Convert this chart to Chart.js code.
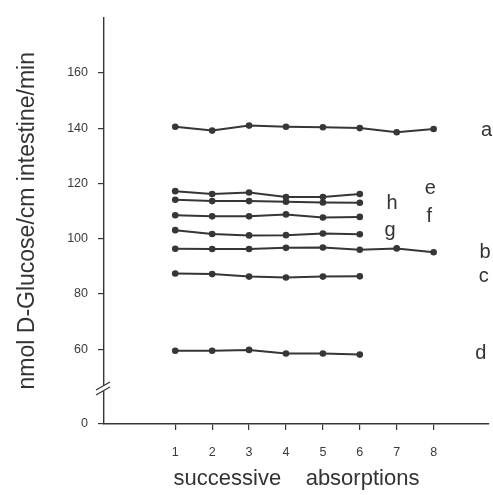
<!DOCTYPE html>
<html>
<head>
<meta charset="utf-8">
<script src="https://cdn.jsdelivr.net/npm/chart.js@4.4.1/dist/chart.umd.min.js"></script>
<style>
  html, body { margin: 0; padding: 0; background: #fff; }
  #wrap { width: 493px; height: 495px; }
</style>
</head>
<body>
<div id="wrap"><canvas id="myChart"></canvas></div>
<script>
// successive absorptions (x) and D-glucose uptake per series
var absorptions = [1, 2, 3, 4, 5, 6, 7, 8];
var seriesA = [140.5, 139.1, 140.9, 140.5, 140.3, 140.0, 138.5, 139.7];
var seriesB = [96.4, 96.3, 96.3, 96.7, 96.8, 96.0, 96.5, 95.1];
var seriesC = [87.4, 87.2, 86.3, 86.0, 86.3, 86.4];
var seriesD = [59.5, 59.5, 59.8, 58.5, 58.5, 58.1];
var seriesE = [117.2, 116.2, 116.7, 115.1, 115.1, 116.2];
var seriesF = [108.5, 108.1, 108.1, 108.8, 107.7, 107.9];
var seriesG = [103.1, 101.7, 101.2, 101.3, 101.9, 101.6];
var seriesH = [114.1, 113.6, 113.6, 113.4, 113.1, 113.0];

var seriesNames = ["a", "b", "c", "d", "e", "f", "g", "h"];
var seriesValues = [seriesA, seriesB, seriesC, seriesD, seriesE, seriesF, seriesG, seriesH];

// tick labels, the axis is broken between 0 and 60
var xTicks = [1, 2, 3, 4, 5, 6, 7, 8];
var yTicks = [60, 80, 100, 120, 140, 160];
var yZeroAt = 33;      // where the "0" sits below the break
var yBreakAt = 46;

// where the letters a..h sit (data units)
var letterX = [9.28, 9.24, 9.22, 9.13, 7.76, 7.81, 6.67, 6.72];
var letterY = [137.0, 93.1, 84.2, 56.4, 116.0, 106.2, 100.9, 110.6];

var ink = "#363636";

var datasets = [];
for (var i = 0; i < seriesValues.length; i++) {
    var pts = [];
    for (var j = 0; j < seriesValues[i].length; j++) {
        pts.push({ x: absorptions[j], y: seriesValues[i][j] });
    }
    datasets.push({
        label: seriesNames[i],
        data: pts,
        borderColor: ink,
        backgroundColor: ink,
        borderWidth: 2,
        pointRadius: 3.3,
        pointBackgroundColor: ink,
        pointBorderWidth: 0,
        tension: 0
    });
}

// draws the series letters and the axis break mark
var extras = {
    id: "extras",
    afterDraw: function(chart) {
        var ctx = chart.ctx;
        var xs = chart.scales.x;
        var ys = chart.scales.y;
        ctx.save();
        ctx.fillStyle = "#333";
        ctx.font = "20px 'Liberation Sans', Arial, sans-serif";
        ctx.textAlign = "left";
        ctx.textBaseline = "alphabetic";
        for (var i = 0; i < seriesNames.length; i++) {
            ctx.fillText(seriesNames[i], xs.getPixelForValue(letterX[i]), ys.getPixelForValue(letterY[i]));
        }
        // break "//"
        var bx = xs.left;
        var by = ys.getPixelForValue(yBreakAt);
        ctx.fillStyle = "#fff";
        ctx.fillRect(bx - 2, by - 3, 4, 6);
        ctx.strokeStyle = ink;
        ctx.lineWidth = 1.3;
        ctx.beginPath();
        ctx.moveTo(bx - 8, by + 2); ctx.lineTo(bx + 6, by - 6);
        ctx.moveTo(bx - 8, by + 7); ctx.lineTo(bx + 6, by - 1);
        ctx.stroke();
        ctx.restore();
    }
};

var ctx = document.getElementById("myChart").getContext("2d");
var myChart = new Chart(ctx, {
    type: "line",
    data: { datasets: datasets },
    plugins: [extras],
    options: {
        responsive: true,
        maintainAspectRatio: false,
        animation: false,
        layout: { padding: { top: 11, left: 0, right: 0, bottom: 0 } },
        plugins: {
            legend: { display: false },
            tooltip: { enabled: false }
        },
        scales: {
            x: {
                type: "linear",
                min: -0.93,
                max: 9.5,
                afterBuildTicks: function(s) {
                    s.ticks = xTicks.map(function(v) { return { value: v }; });
                },
                afterFit: function(s) { s.height = 71; },
                ticks: {
                    color: "#3a3a3a",
                    font: { family: "'Liberation Sans', Arial, sans-serif", size: 12.5 },
                    padding: 15,
                    maxRotation: 0
                },
                grid: { drawOnChartArea: false, color: ink, tickLength: 6, lineWidth: 1.2 },
                border: { color: ink, width: 1.4 },
                title: {
                    display: true,
                    text: "successive    absorptions",
                    color: "#333",
                    font: { family: "'Liberation Sans', Arial, sans-serif", size: 22 },
                    padding: { top: 0, bottom: 3 }
                }
            },
            y: {
                min: yZeroAt,
                max: 180,
                afterBuildTicks: function(s) {
                    var t = [{ value: yZeroAt }];
                    yTicks.forEach(function(v) { t.push({ value: v }); });
                    s.ticks = t;
                },
                afterFit: function(s) { s.width = 104; },
                ticks: {
                    color: "#3a3a3a",
                    font: { family: "'Liberation Sans', Arial, sans-serif", size: 12.5 },
                    padding: 10,
                    callback: function(v) { return v === yZeroAt ? "0" : v; }
                },
                grid: { drawOnChartArea: false, color: ink, tickLength: 6, lineWidth: 1.2 },
                border: { color: ink, width: 1.4 },
                title: {
                    display: true,
                    text: "nmol D-Glucose/cm intestine/min",
                    color: "#333",
                    font: { family: "'Liberation Sans', Arial, sans-serif", size: 23 },
                    padding: { top: 14, bottom: 0 }
                }
            }
        }
    }
});
</script>
</body>
</html>
